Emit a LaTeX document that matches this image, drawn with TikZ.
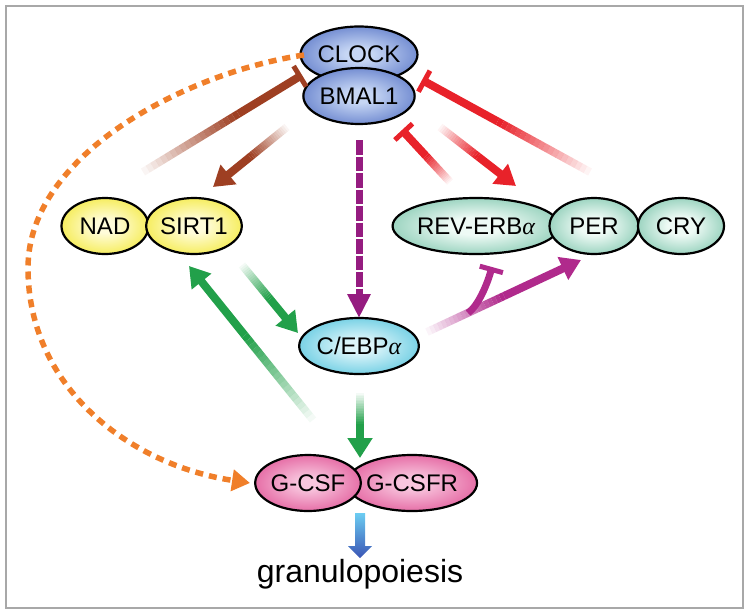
\documentclass[tikz,border=0pt]{standalone}
\usepackage{fontspec}
\setmainfont{Liberation Sans}
\newfontfamily\greekserif{Liberation Serif}
\usetikzlibrary{shapes.geometric,arrows.meta,calc}

\definecolor{brownA}{HTML}{9E3F22}
\definecolor{redA}{HTML}{E8222A}
\definecolor{greenA}{HTML}{22A04A}
\definecolor{purpA}{HTML}{951C80}
\definecolor{magA}{HTML}{B02A8C}
\definecolor{orangeA}{HTML}{F07F2A}
\definecolor{blueIn}{HTML}{C6D6F4}
\definecolor{blueOut}{HTML}{3556B8}
\definecolor{yelIn}{HTML}{FFFCDA}
\definecolor{yelOut}{HTML}{EFE200}
\definecolor{tealIn}{HTML}{EEFAF5}
\definecolor{tealOut}{HTML}{4CAF8D}
\definecolor{cyanIn}{HTML}{DDF5FA}
\definecolor{cyanOut}{HTML}{2BB6D5}
\definecolor{pinkIn}{HTML}{F8C6DE}
\definecolor{pinkOut}{HTML}{D92E7E}
\definecolor{arrTop}{HTML}{6CCDF2}
\definecolor{arrBot}{HTML}{3A55B5}
\definecolor{frameC}{HTML}{A8A8A8}

\pgfdeclareradialshading{shblue}{\pgfpoint{0bp}{0bp}}{color(0bp)=(blueIn); color(6bp)=(blueIn); color(40bp)=(blueOut); color(50bp)=(blueOut)}
\pgfdeclareradialshading{shyel}{\pgfpoint{0bp}{0bp}}{color(0bp)=(yelIn); color(6bp)=(yelIn); color(40bp)=(yelOut); color(50bp)=(yelOut)}
\pgfdeclareradialshading{shteal}{\pgfpoint{0bp}{0bp}}{color(0bp)=(tealIn); color(8bp)=(tealIn); color(42bp)=(tealOut); color(50bp)=(tealOut)}
\pgfdeclareradialshading{shcyan}{\pgfpoint{0bp}{0bp}}{color(0bp)=(cyanIn); color(6bp)=(cyanIn); color(40bp)=(cyanOut); color(50bp)=(cyanOut)}
\pgfdeclareradialshading{shpink}{\pgfpoint{0bp}{0bp}}{color(0bp)=(pinkIn); color(5bp)=(pinkIn); color(40bp)=(pinkOut); color(50bp)=(pinkOut)}

% faded connector: #1 line style, #2 tip style, #3 start, #4 end, #5 faded fraction
\newcommand{\fadeconn}[5]{%
  \foreach \k in {1,...,20}{%
    \pgfmathsetmacro{\ta}{#5*(\k-1)/20}%
    \pgfmathsetmacro{\tb}{#5*\k/20}%
    \pgfmathsetmacro{\op}{\k/20}%
    \draw[#1, draw opacity=\op] ($(#3)!\ta!(#4)$) -- ($(#3)!\tb!(#4)$);
  }%
  \draw[#1, #2] ($(#3)!#5!(#4)$) -- (#4);
}

\tikzset{
  ell/.style={ellipse, draw=black, line width=2.2pt, inner sep=0pt,
    minimum height=56pt, shade, font=\fontsize{24}{27}\selectfont},
  conn/.style={line width=8pt},
  act/.style={-{Triangle[length=20pt,width=24pt]}},
  inh/.style={-{Bar[width=24pt,line width=5pt]}},
}

\begin{document}
\begin{tikzpicture}[x=1pt,y=-1pt]
\useasboundingbox (0,0) rectangle (750,614);
\draw[frameC, line width=1.5pt] (6,6) rectangle (743,608);

% nodes
\node[ell, shading=shblue, minimum width=106pt] (clock) at (359,54.5) {CLOCK};
\node[ell, shading=shblue, minimum width=106pt] (bmal) at (359,96) {BMAL1};
\node[ell, shading=shyel, minimum width=87pt] (nad) at (105,226) {NAD};
\node[ell, shading=shyel, minimum width=88pt] (sirt) at (194,226) {SIRT1};
\node[ell, shading=shteal, minimum width=143pt] (rev) at (476,226) {REV-ERB{\greekserif\itshape α}};
\node[ell, shading=shteal, minimum width=89pt] (per) at (594,226) {PER};
\node[ell, shading=shteal, minimum width=86pt] (cry) at (681,226) {CRY};
\node[ell, shading=shcyan, minimum width=106pt] (cebp) at (359,346) {C/EBP{\greekserif\itshape α}};
\node[ell, shading=shpink, minimum width=106pt] (gcsfr) at (412,483) {G-CSFR};
\node[ell, shading=shpink, minimum width=104pt] (gcsf) at (308,483) {G-CSF};
\node[font=\fontsize{32}{35}\selectfont, inner sep=0pt] (gran) at (360,574) {granulopoiesis};

% named connector ends
\coordinate (oS) at (304,55);
\coordinate (oM) at (28,268);
\coordinate (oE) at (250,483);
\coordinate (b1s) at (143,172);  \coordinate (b1e) at (302,75);
\coordinate (b2s) at (287,127);  \coordinate (b2e) at (213,187);
\coordinate (pS) at (359,140);   \coordinate (pE) at (359,318);
\coordinate (r1s) at (590,172);  \coordinate (r1e) at (422,80);
\coordinate (r2s) at (450,182);  \coordinate (r2e) at (402,130);
\coordinate (r3s) at (440,127);  \coordinate (r3e) at (516,186);
\coordinate (g1s) at (242,265);  \coordinate (g1e) at (298,333);
\coordinate (g2s) at (313,420);  \coordinate (g2e) at (189,266);
\coordinate (g3s) at (360,393);  \coordinate (g3e) at (360,458);
\coordinate (m1s) at (427,332);  \coordinate (m1e) at (581,260);
\coordinate (mJ) at (468,313);   \coordinate (mB) at (492,267);

% orange dotted curve
\draw[orangeA, line width=5.5pt, dash pattern=on 8pt off 6pt,
  -{Triangle[length=18pt,width=21pt]}]
  (oS) .. controls (189,72) and (28,153) .. (oM)
       .. controls (28,388) and (130,465) .. (oE);

% brown
\fadeconn{conn, brownA}{inh}{b1s}{b1e}{0.6}
\fadeconn{conn, brownA}{act}{b2s}{b2e}{0.5}

% purple dashed
\draw[purpA, line width=7pt, dash pattern=on 14.5pt off 2pt,
  -{Triangle[length=24pt,width=22pt]}] (pS) -- (pE);

% red
\fadeconn{conn, redA}{inh}{r1s}{r1e}{0.55}
\fadeconn{conn, redA}{inh}{r2s}{r2e}{0.5}
\fadeconn{conn, redA}{act}{r3s}{r3e}{0.5}

% green
\fadeconn{conn, greenA}{act}{g1s}{g1e}{0.5}
\fadeconn{conn, greenA}{act}{g2s}{g2e}{0.55}
\fadeconn{conn, greenA}{act}{g3s}{g3e}{0.5}

% magenta
\fadeconn{conn, magA}{act}{m1s}{m1e}{0.5}
\draw[magA, line width=7pt, inh] (mJ) .. controls (478,306) and (487,285) .. (mB);

% blue gradient arrow
\shade[top color=arrTop, bottom color=arrBot]
  (355,513) -- (365,513) -- (365,546) -- (372,546) -- (360,558)
  -- (348,546) -- (355,546) -- cycle;
\end{tikzpicture}
\end{document}
